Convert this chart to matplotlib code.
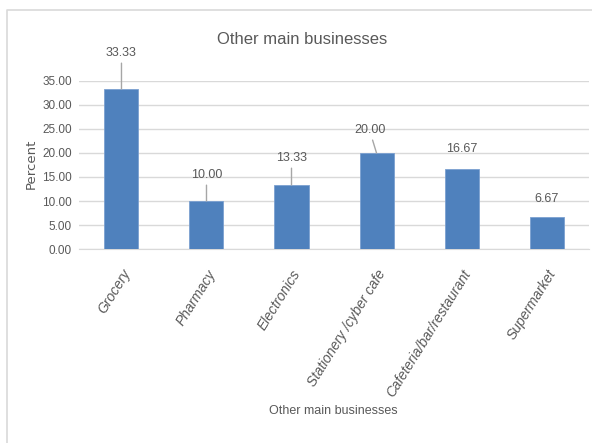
import matplotlib.pyplot as plt
from matplotlib.lines import Line2D

# === Data ===
categories = ['Grocery', 'Pharmacy', 'Electronics', 'Stationery /cyber cafe',
              'Cafeteria/bar/restaurant', 'Supermarket']
percent = [33.33, 10.00, 13.33, 20.00, 16.67, 6.67]
yticks = [0, 5, 10, 15, 20, 25, 30, 35]

# label offsets (pixels) and whether a leader line is drawn
label_offsets = [(0, 36), (0, 26), (0, 27), (-7, 23), (0, 20), (0, 18)]
leader = [True, True, True, True, False, False]

plt.rcParams['font.family'] = ['Liberation Sans', 'DejaVu Sans']
grey = '#595959'

fig = plt.figure(figsize=(5.92, 4.43), dpi=100)
ax = fig.add_axes([0.1334, 0.4379, 0.8616, 0.3793])

x = range(len(categories))
ax.bar(x, percent, width=0.4, color='#4f81bd', edgecolor='#7ba0d0', linewidth=0.6, zorder=3)

ax.set_xlim(-0.5, len(categories) - 0.5)
ax.set_ylim(0, 35)
ax.set_yticks(yticks)
ax.set_yticklabels([f'{v:.2f}' for v in yticks], fontsize=8.5, color=grey)
ax.set_xticks(list(x))
ax.set_xticklabels(categories, rotation=58, ha='right', rotation_mode='anchor',
                   fontsize=10, style='italic', color=grey)
ax.tick_params(axis='y', length=0, pad=5)
ax.tick_params(axis='x', length=0, pad=13)
ax.grid(axis='y', color='#d9d9d9', linewidth=1, zorder=0)
for s in ['top', 'right', 'left']:
    ax.spines[s].set_visible(False)
ax.spines['bottom'].set_color('#d9d9d9')

# === Data labels ===
for i, v in enumerate(percent):
    props = dict(arrowstyle='-', color='#a6a6a6', lw=1, shrinkA=1, shrinkB=0) if leader[i] else None
    ax.annotate(f'{v:.2f}', xy=(i, v), xytext=label_offsets[i], textcoords='offset pixels',
                ha='center', va='center', fontsize=9, color=grey,
                arrowprops=props, annotation_clip=False)

fig.text(0.51, 0.91, 'Other main businesses', ha='center', va='center', fontsize=12, color=grey)
fig.text(0.052, 0.63, 'Percent', rotation=90, ha='center', va='center',
         fontsize=9.5, color=grey, family='DejaVu Sans')
fig.text(0.563, 0.073, 'Other main businesses', ha='center', va='center', fontsize=9, color=grey)

# chart frame
fig.add_artist(Line2D([0.012, 0.012, 1.0], [0.0, 0.977, 0.977], color='#d9d9d9', lw=1.2))

plt.savefig('out.png', dpi=100)
